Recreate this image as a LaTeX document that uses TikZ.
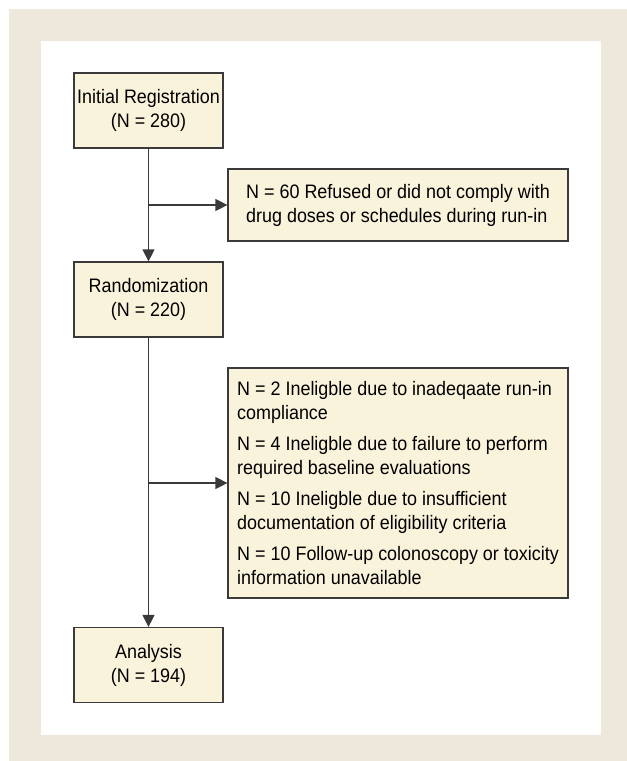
\documentclass[tikz,border=0pt]{standalone}
\usepackage{fontspec}
\setmainfont[FakeStretch=0.92]{Liberation Sans}
\usetikzlibrary{arrows.meta}
\definecolor{framebeige}{HTML}{EEE7DB}
\definecolor{boxcream}{HTML}{FAF3DC}
\definecolor{linegray}{HTML}{3A3A3A}
\tikzset{
  stage/.style={draw=linegray, line width=1.2pt, fill=boxcream, minimum width=149pt,
    minimum height=75pt, align=center, inner sep=0pt},
  dropout/.style={draw=linegray, line width=1.2pt, fill=boxcream, minimum width=340pt,
    align=left, inner xsep=9pt, inner ysep=0pt},
  flow/.style={draw=linegray, line width=1.2pt, -{Triangle[length=12pt,width=12pt]}}
}
\begin{document}
\begin{tikzpicture}[x=1pt,y=1pt,font=\fontsize{19.5}{24}\selectfont]
    \useasboundingbox (0,0) rectangle (627,-761);
    % frame
    \fill[framebeige] (9,-9) rectangle (627,-761);
    \fill[white] (41,-41) rectangle (601,-735);
    % main stages
    \node[stage] (reg) at (148.5,-110.5) {Initial Registration\\(N = 280)};
    \node[stage] (rand) at (148.5,-299.5) {Randomization\\(N = 220)};
    \node[stage] (anal) at (148.5,-665) {Analysis\\(N = 194)};
    % dropouts
    \node[dropout, minimum height=72pt] (refused) at (398,-205)
      {N = 60 Refused or did not comply with\\drug doses or schedules during run-in};
    \node[dropout, minimum height=230pt] (excl) at (398,-483)
      {N = 2 Ineligble due to inadeqaate run-in\\compliance\\[7pt]
       N = 4 Ineligble due to failure to perform\\required baseline evaluations\\[7pt]
       N = 10 Ineligble due to insufficient\\documentation of eligibility criteria\\[7pt]
       N = 10 Follow-up colonoscopy or toxicity\\information unavailable};
    \coordinate (fork1) at (reg.south |- refused.west);
    \coordinate (fork2) at (rand.south |- excl.west);
    \draw[flow] (reg) -- (rand);
    \draw[flow] (rand) -- (anal);
    \draw[flow] (fork1) -- (refused);
    \draw[flow] (fork2) -- (excl);
  \end{tikzpicture}
\end{document}
